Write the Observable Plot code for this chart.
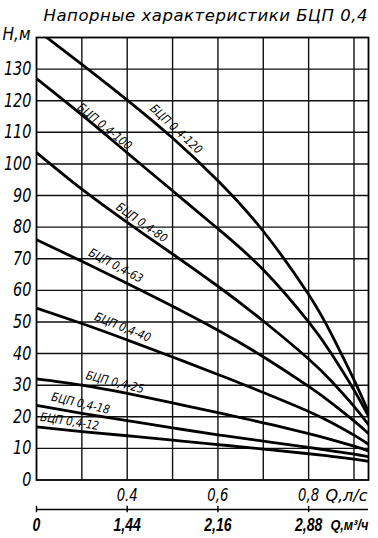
<!DOCTYPE html>
<html>
<head>
<meta charset="utf-8">
<script src="https://cdn.jsdelivr.net/npm/d3@7"></script>
<script src="https://cdn.jsdelivr.net/npm/@observablehq/plot@0.6"></script>
<style>
  html, body { margin: 0; padding: 0; background: #fff; }
  #chart svg { display: block; }
</style>
</head>
<body>
<div id="chart"></div>
<script>
// ---- data ----
const title = "Напорные характеристики БЦП 0,4";
const Q = [0.2, 0.3, 0.4, 0.5, 0.6, 0.7, 0.8, 0.85, 0.9, 0.932]; // flow, l/s
const h120 = [142.5, 131.5, 120.2, 108.2, 94.7, 78.7, 58.7, 46.2, 31.7, 21.5];
const h100 = [127, 115.5, 103.5, 91.5, 79.5, 66.5, 50, 40, 28.5, 20.2];
const h80  = [103.6, 92, 81.5, 71.5, 61.3, 50.3, 38.3, 31.3, 23.3, 17.5];
const h63  = [76, 69.2, 62.2, 55, 47.4, 39, 29.6, 24.4, 18.7, 14.7];
const h40  = [54.4, 49.5, 44.3, 38.9, 33.4, 27.7, 21.7, 18.2, 14.2, 11.3];
const h25  = [32, 30, 27.4, 24.4, 21.3, 18.1, 14.7, 12.8, 10.7, 9.2];
const h18  = [23.6, 21.1, 18.8, 16.5, 14.3, 12.3, 10.3, 9.25, 8.15, 7.35];
const h12  = [16.8, 15.3, 14, 12.6, 11.2, 9.8, 8.3, 7.5, 6.6, 5.9];

const seriesNames = ["БЦП 0,4-120", "БЦП 0,4-100", "БЦП 0,4-80", "БЦП 0,4-63", "БЦП 0,4-40", "БЦП 0,4-25", "БЦП 0,4-18", "БЦП 0,4-12"];
const seriesValues = [h120, h100, h80, h63, h40, h25, h18, h12];

const labelQ = [0.508, 0.350, 0.432, 0.375, 0.390, 0.373, 0.297, 0.273];
const labelH = [111.0, 111.8, 81.4, 67.8, 48.3, 30.9, 24.2, 18.5];
const labelAngle = [43, 39, 35, 28, 22, 14, 13, 9];

const yTicks = [0, 10, 20, 30, 40, 50, 60, 70, 80, 90, 100, 110, 120, 130];
const gridQ = [0.3, 0.4, 0.5, 0.6, 0.7, 0.8, 0.9];
const gridH = [10, 20, 30, 40, 50, 60, 70, 80, 90, 100, 110, 120, 130];
const lsTicks = [0.4, 0.6, 0.8];
const lsLabels = ["0.4", "0,6", "0,8"];
const m3Ticks = [0.2, 0.4, 0.6, 0.8];
const m3Labels = ["0", "1,44", "2,16", "2,88"];
const yUnit = "Н,м";
const lsUnit = "Q,л/с";
const m3Unit = "Q,м³/ч";

// ---- build table ----
const rows = [];
seriesNames.forEach((name, i) => {
  Q.forEach((q, j) => rows.push({name, q, h: seriesValues[i][j]}));
});
const labels = seriesNames.map((name, i) => ({name, q: labelQ[i], h: labelH[i], a: labelAngle[i]}));

const font = "'DejaVu Sans', sans-serif";
const fontB = "'Liberation Sans', Arial, sans-serif";

const chart = Plot.plot({
  width: 378,
  height: 538,
  marginLeft: 36,
  marginRight: 10,
  marginTop: 37,
  marginBottom: 58.5,
  style: {background: "#fff", color: "#000", overflow: "visible"},
  x: {domain: [0.2, 0.932], axis: null},
  y: {domain: [0, 140], axis: null},
  marks: [
    Plot.ruleX(gridQ, {stroke: "#111", strokeWidth: 1.4}),
    Plot.ruleY(gridH, {stroke: "#111", strokeWidth: 1.4}),
    Plot.frame({stroke: "#000", strokeWidth: 1.8}),
    Plot.line(rows, {x: "q", y: "h", z: "name", curve: "natural", stroke: "#000", strokeWidth: 2.8, clip: true}),
    Plot.text(labels, {x: "q", y: "h", text: "name", rotate: "a", fontFamily: font, fontStyle: "italic", fontSize: 12, fill: "#000", className: "c-lbl"}),
    // y tick labels
    Plot.text(yTicks, {y: d => d, text: d => String(d), frameAnchor: "left", dx: -5, textAnchor: "end", fontFamily: font, fontStyle: "italic", fontSize: 19, fill: "#000", className: "c-y"}),
    // y unit
    Plot.text([yUnit], {text: d => d, frameAnchor: "top-left", dx: -20, dy: -3, textAnchor: "middle", lineAnchor: "middle", fontFamily: font, fontStyle: "italic", fontSize: 18, fill: "#000", className: "c-yu"}),
    // title
    Plot.text([title], {text: d => d, frameAnchor: "top", dx: 3, dy: -22, lineAnchor: "middle", fontFamily: font, fontStyle: "italic", fontSize: 16.5, fill: "#000", className: "c-title"}),
    // l/s labels
    Plot.text(lsTicks, {x: d => d, y: 0, text: (d, i) => lsLabels[i], dy: 15.5, lineAnchor: "middle", fontFamily: font, fontStyle: "italic", fontSize: 17, fill: "#000", className: "c-ls"}),
    Plot.text([lsUnit], {text: d => d, frameAnchor: "bottom-right", dx: -1, dy: 15.5, textAnchor: "end", lineAnchor: "middle", fontFamily: font, fontStyle: "italic", fontSize: 16, fill: "#000", className: "c-lsu"}),
    // m3/h axis
    Plot.ruleY([0], {dy: 29.5, stroke: "#000", strokeWidth: 1.6}),
    Plot.ruleX(m3Ticks, {y1: -1, y2: 1, dy: 29.5, stroke: "#000", strokeWidth: 1.4}),
    Plot.text(m3Ticks, {x: d => d, y: 0, text: (d, i) => m3Labels[i], dy: 45.5, lineAnchor: "middle", fontFamily: fontB, fontStyle: "italic", fontWeight: "bold", fontSize: 18, fill: "#000", className: "c-m3"}),
    Plot.text([m3Unit], {text: d => d, frameAnchor: "bottom-right", dx: 0, dy: 45.5, textAnchor: "end", lineAnchor: "middle", fontFamily: fontB, fontStyle: "italic", fontWeight: "bold", fontSize: 15, fill: "#000", className: "c-m3u"})
  ]
});
document.getElementById("chart").appendChild(chart);

// narrow the lettering to the drawing's condensed style
function condense(cls, factor, mode) {
  d3.select(chart).selectAll(`.${cls} text`).each(function () {
    const L = this.getComputedTextLength();
    this.setAttribute("textLength", (L * factor).toFixed(1));
    this.setAttribute("lengthAdjust", mode || "spacingAndGlyphs");
  });
}
condense("c-lbl", 0.86);
condense("c-y", 0.76);
condense("c-yu", 0.85);
condense("c-ls", 0.78);
condense("c-lsu", 1.0);
condense("c-m3", 0.78);
condense("c-m3u", 0.85);
d3.select(chart).selectAll(".c-title text").each(function () {
  this.setAttribute("textLength", 324);
  this.setAttribute("lengthAdjust", "spacing");
});
</script>
</body>
</html>
